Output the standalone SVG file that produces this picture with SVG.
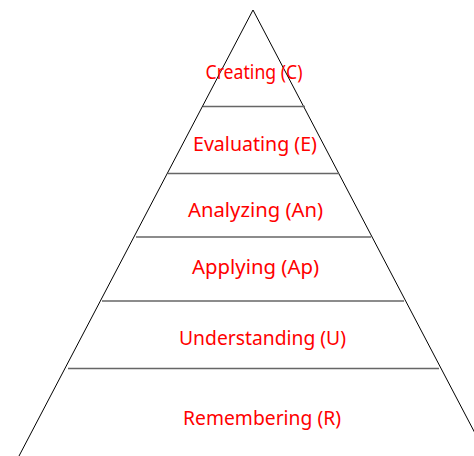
<svg xmlns="http://www.w3.org/2000/svg" width="474" height="456" viewBox="0 0 474 456">
<style>
.edge{stroke:#000;stroke-width:1;fill:none}
.div{stroke:#666;stroke-width:1.5;fill:none}
.lbl{font-family:"Noto Sans","DejaVu Sans",sans-serif;font-size:20px;fill:#FF0000;text-anchor:middle}
</style>
<rect width="474" height="456" fill="#fff"/>
<g id="connectors">
<path class="edge" d="M253,10 L19,456"/>
<path class="edge" d="M253,10 L487,456"/>
<path class="div" d="M203,106.5 H305"/>
<path class="div" d="M168,173.5 H339"/>
<path class="div" d="M136,237 H371"/>
<path class="div" d="M102,301 H404"/>
<path class="div" d="M68,368.5 H439"/>
</g>
<g id="creating"><text class="lbl" x="254" y="79" textLength="97" lengthAdjust="spacingAndGlyphs">Creating (C)</text></g>
<g id="evaluating"><text class="lbl" x="255" y="151" textLength="124" lengthAdjust="spacingAndGlyphs">Evaluating (E)</text></g>
<g id="analyzing"><text class="lbl" x="255.5" y="217" textLength="135" lengthAdjust="spacingAndGlyphs">Analyzing (An)</text></g>
<g id="applying"><text class="lbl" x="255.5" y="274" textLength="127" lengthAdjust="spacingAndGlyphs">Applying (Ap)</text></g>
<g id="understanding"><text class="lbl" x="262.5" y="345" textLength="167" lengthAdjust="spacingAndGlyphs">Understanding (U)</text></g>
<g id="remembering"><text class="lbl" x="262" y="425" textLength="158" lengthAdjust="spacingAndGlyphs">Remembering (R)</text></g>
</svg>
